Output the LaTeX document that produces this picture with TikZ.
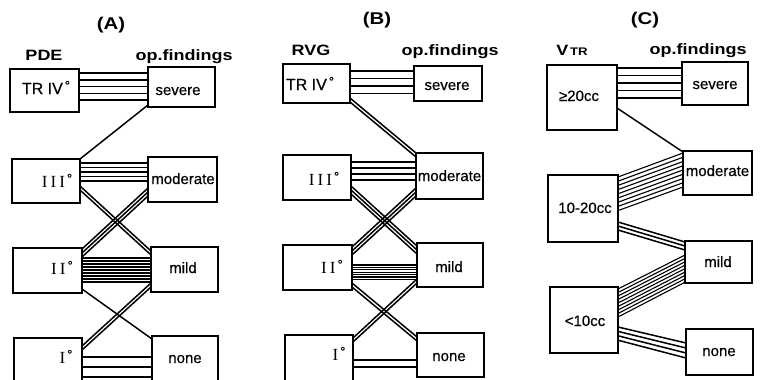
\documentclass[tikz,border=0pt]{standalone}
\usepackage{fontspec}
\setmainfont{Liberation Sans}
\newfontfamily\lblfont[FakeBold=0.5]{Liberation Sans}
\newfontfamily\romfont[LetterSpace=18]{Liberation Serif}
\newfontfamily\headfont[FakeStretch=1.2]{Liberation Sans}
\newcommand\bundle[8][ln]{\foreach \k in {0,...,#6}{\pgfmathsetmacro\ya{#4+\k*#7}\pgfmathsetmacro\yb{#5+\k*#8}\draw[#1] (#2 |- 0,\ya) -- (#3 |- 0,\yb);}}
\newcommand\bx[5]{\node[box,minimum width=#4pt,minimum height=#5pt] (#1) at (#2,#3) {};}
\newcommand\dg{\kern2pt\raisebox{4pt}{\lblfont\fontsize{13}{13}\selectfont °}}
\begin{document}
\begin{tikzpicture}[x=1pt,y=-1pt,
  box/.style={draw,line width=1.5pt,inner sep=0pt,outer sep=0pt,anchor=north west},
  ln/.style={line width=1.5pt},
  thn/.style={line width=1.1pt},
  lbl/.style={font=\lblfont\fontsize{15}{15}\selectfont,inner sep=0pt,anchor=base},
  trl/.style={font=\lblfont\fontsize{16}{16}\selectfont,inner sep=0pt,anchor=base},
  rom/.style={font=\romfont\fontsize{17}{17}\selectfont,inner sep=0pt,anchor=base},
  head/.style={font=\headfont\bfseries\fontsize{15}{15}\selectfont,inner sep=0pt,anchor=base},
  ttl/.style={font=\headfont\bfseries\fontsize{17}{17}\selectfont,inner sep=0pt,anchor=base}]
\useasboundingbox (0,0) rectangle (769,380);
\clip (0,0) rectangle (769,380);
% ---------- Panel A ----------
\node[ttl] (tA) at (111,30) {(A)};
\node[head] (hA1) at (44,60) {PDE};
\node[head] (hA2) at (184,60) {op.findings};
\bx{A4}{10}{69}{69}{43}
\bx{As}{148}{67}{67}{40}
\bx{A3}{12}{159}{68}{44}
\bx{Am}{148}{157}{69}{45}
\bx{A2}{13}{248}{69}{45}
\bx{Ami}{151}{247}{67}{45}
\bx{A1}{14}{338}{68}{60}
\bx{An}{152}{336}{66}{60}
\node[trl] (lA4) at (46,94) {TR IV\dg};
\node[lbl] (lAs) at (178,95) {severe};
\node[rom] (lA3) at (57,187) {III\dg};
\node[lbl] (lAm) at (183,184) {moderate};
\node[rom] (lA2) at (62,274) {II\dg};
\node[lbl] (lAmi) at (183,273) {mild};
\node[rom] (lA1) at (66,363) {I\dg};
\node[lbl] (lAn) at (185,363) {none};
\bundle{A4.east}{As.west}{73}{73}{4}{6.75}{6.75}
\draw[ln] (As.west |- 0,105) -- (A3.north east);
\bundle{A3.east}{Am.west}{163}{163}{4}{4.5}{4.5}
\bundle{A3.east}{Ami.west}{186}{251}{1}{4}{4}
\bundle{Am.west}{A2.east}{188}{249}{2}{4}{4}
\bundle[thn]{A2.east}{Ami.west}{258}{258}{8}{3}{3}
\draw[ln] (A2.east |- 0,289) -- (An.west |- 0,339);
\bundle{Ami.west}{A1.east}{283}{346}{1}{4}{4}
\bundle{A1.east}{An.west}{357}{357}{2}{10}{10}
% ---------- Panel B ----------
\node[ttl] (tB) at (377,24) {(B)};
\node[head] (hB1) at (311,55) {RVG};
\node[head] (hB2) at (450,55) {op.findings};
\bx{B4}{283}{64}{67}{39}
\bx{Bs}{414}{66}{68}{35}
\bx{B3}{283}{155}{68}{45}
\bx{Bm}{416}{153}{67}{46}
\bx{B2}{283}{245}{69}{45}
\bx{Bmi}{417}{243}{66}{44}
\bx{B1}{285}{335}{68}{60}
\bx{Bn}{417}{333}{67}{44}
\node[trl] (lB4) at (310,90) {TR IV\dg};
\node[lbl] (lBs) at (447,90) {severe};
\node[rom] (lB3) at (324,185) {III\dg};
\node[lbl] (lBm) at (449.5,181) {moderate};
\node[rom] (lB2) at (332,273) {II\dg};
\node[lbl] (lBmi) at (449,272) {mild};
\node[rom] (lB1) at (339,360) {I\dg};
\node[lbl] (lBn) at (449,361) {none};
\bundle{B4.east}{Bs.west}{71}{71}{3}{7.5}{7.5}
\bundle{B4.east}{Bm.west}{98}{153}{1}{4}{4}
\bundle{B3.east}{Bm.west}{162}{162}{3}{6}{6}
\bundle{B3.east}{Bmi.west}{186}{246}{2}{4}{4}
\bundle{Bm.west}{B2.east}{188}{247}{2}{4}{4}
\bundle[thn]{B2.east}{Bmi.west}{265}{265}{6}{2.4}{2.4}
\bundle{B2.east}{Bn.west}{283}{337}{1}{4}{4}
\bundle{Bmi.west}{B1.east}{279}{338}{1}{4}{4}
\bundle{B1.east}{Bn.west}{360}{360}{1}{7}{7}
% ---------- Panel C ----------
\node[ttl] (tC) at (645,24) {(C)};
\node[head] (hC1) at (572,55) {V{\fontsize{11}{11}\selectfont\,TR}};
\node[head] (hC2) at (698,54) {op.findings};
\bx{C20}{547}{65}{70}{65}
\bx{Cs}{682}{62}{66}{43}
\bx{Cm}{683}{151}{69}{44}
\bx{C10}{548}{175}{70}{67}
\bx{Cmi}{685}{241}{67}{42}
\bx{C0}{550}{287}{68}{66}
\bx{Cn}{686}{329}{67}{46}
\node[lbl] (lC20) at (579,101) {≥20cc};
\node[lbl] (lCs) at (715,89) {severe};
\node[lbl] (lCm) at (717.5,176) {moderate};
\node[lbl] (lC10) at (585,213) {10-20cc};
\node[lbl] (lCmi) at (718,267) {mild};
\node[lbl] (lC0) at (585,326) {<10cc};
\node[lbl] (lCn) at (719,356) {none};
\bundle{C20.east}{Cs.west}{68}{68}{4}{7.5}{7.5}
\draw[ln] (C20.east |- 0,108) -- (Cm.west |- 0,152);
\bundle[thn]{C10.east}{Cm.west}{177}{153}{8}{4.2}{4.25}
\bundle{C10.east}{Cmi.west}{222}{242}{2}{4}{4}
\bundle[thn]{C0.east}{Cmi.west}{289}{255}{8}{3.5}{3.4}
\bundle{C0.east}{Cn.west}{327}{343}{3}{4.4}{5}
\end{tikzpicture}
\end{document}
